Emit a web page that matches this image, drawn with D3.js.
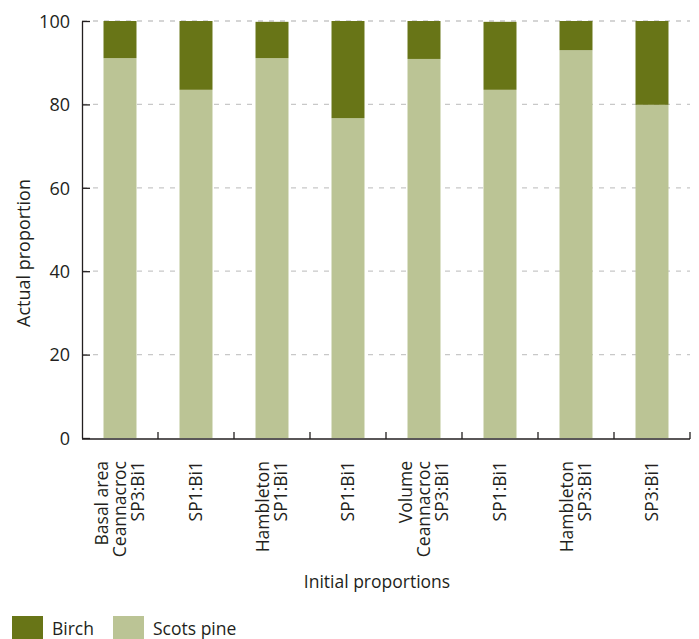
<!DOCTYPE html>
<html>
<head>
<meta charset="utf-8">
<script src="https://cdn.jsdelivr.net/npm/d3@7"></script>
<style>
  body { margin: 0; background: #fff; }
  svg text { font-family: "Open Sans", "Noto Sans", sans-serif; fill: #231f20; }
</style>
</head>
<body>
<div id="chart"></div>
<script>
// data
var groups = [
  ["Basal area", "Ceannacroc", "SP3:Bi1"],
  ["SP1:Bi1"],
  ["Hambleton", "SP1:Bi1"],
  ["SP1:Bi1"],
  ["Volume", "Ceannacroc", "SP3:Bi1"],
  ["SP1:Bi1"],
  ["Hambleton", "SP3:Bi1"],
  ["SP3:Bi1"]
];
var scotsPine = [91.1, 83.5, 91.1, 76.7, 90.9, 83.5, 93.0, 79.9];
var birch = [8.9, 16.5, 8.7, 23.3, 9.1, 16.3, 7.0, 20.1];
var yTicks = [0, 20, 40, 60, 80, 100];
var series = [
  {name: "Birch", color: "#687517"},
  {name: "Scots pine", color: "#bbc495"}
];

var W = 699, H = 639;
var plotL = 82, plotR = 690, plotT = 21, plotB = 438;

var svg = d3.select("#chart").append("svg")
  .attr("width", W).attr("height", H);

var x = d3.scaleBand().domain(d3.range(groups.length)).range([plotL, plotR]).paddingInner(0.566).paddingOuter(0.283);
var y = d3.scaleLinear().domain([0, 100]).range([plotB, plotT]);

// grid
svg.append("g").selectAll("line").data(yTicks.filter(function(d){ return d > 0; }))
  .join("line")
  .attr("x1", plotL).attr("x2", plotR)
  .attr("y1", function(d){ return y(d); }).attr("y2", function(d){ return y(d); })
  .attr("stroke", "#c8c8c8").attr("stroke-width", 1.3)
  .attr("stroke-dasharray", "5,6");

// stacked bars
var rows = groups.map(function(g, i){ return {i: i, pine: scotsPine[i], birch: birch[i]}; });
var stack = d3.stack().keys(["pine", "birch"]);
var layers = stack(rows);
var colors = {pine: series[1].color, birch: series[0].color};
svg.append("g").selectAll("g").data(layers).join("g")
  .attr("fill", function(d){ return colors[d.key]; })
  .selectAll("rect").data(function(d){ return d; }).join("rect")
  .attr("x", function(d){ return x(d.data.i); })
  .attr("width", x.bandwidth())
  .attr("y", function(d){ return y(Math.min(d[1], 100)); })
  .attr("height", function(d){ return y(d[0]) - y(Math.min(d[1], 100)); });

// y axis
var yAxis = svg.append("g").attr("transform", "translate(" + plotL + ",0)")
  .call(d3.axisRight(y).tickValues(yTicks).tickSize(8).tickSizeOuter(0).tickFormat(d3.format("d")));
yAxis.select(".domain").attr("stroke", "#231f20").attr("stroke-width", 1.3);
yAxis.selectAll(".tick line").attr("stroke", "#231f20").attr("stroke-width", 1.3);
yAxis.selectAll(".tick text").attr("x", -12).attr("text-anchor", "end")
  .attr("font-size", 18).attr("dy", "0.35em");

// x axis
var step = x.step();
var bounds = d3.range(groups.length + 1).map(function(i){ return plotL + i * step; });
svg.append("line").attr("x1", plotL).attr("x2", plotR).attr("y1", plotB + 1).attr("y2", plotB + 1)
  .attr("stroke", "#231f20").attr("stroke-width", 1.3);
svg.append("g").selectAll("line").data(bounds.slice(1)).join("line")
  .attr("x1", function(d){ return d; }).attr("x2", function(d){ return d; })
  .attr("y1", plotB + 1).attr("y2", plotB - 6)
  .attr("stroke", "#231f20").attr("stroke-width", 1.3);

// x labels
var lineH = 18;
var xl = svg.append("g").selectAll("text").data(groups).join("text")
  .attr("font-size", 17.5)
  .attr("text-anchor", "end")
  .attr("transform", function(d, i){
    var cx = x(i) + x.bandwidth() / 2;
    return "translate(" + cx + "," + (plotB + 23) + ") rotate(-90)";
  });
xl.selectAll("tspan").data(function(d){ return d.map(function(t, k){ return {t: t, k: k, n: d.length}; }); })
  .join("tspan")
  .attr("x", 0)
  .attr("y", function(d){ return (d.k - (d.n - 1) / 2) * lineH; })
  .attr("dy", "0.35em")
  .text(function(d){ return d.t; });

// axis titles
svg.append("text").attr("x", 377).attr("y", 588)
  .attr("text-anchor", "middle").attr("font-size", 17.5).text("Initial proportions");
svg.append("text").attr("transform", "translate(30,253) rotate(-90)")
  .attr("text-anchor", "middle").attr("font-size", 18).text("Actual proportion");

// legend
var lg = svg.append("g").selectAll("g").data(series).join("g")
  .attr("transform", function(d, i){ return "translate(" + (12 + i * 101) + ",616)"; });
lg.append("rect").attr("width", 31).attr("height", 23).attr("fill", function(d){ return d.color; });
lg.append("text").attr("x", 40).attr("y", 19).attr("font-size", 17.5).text(function(d){ return d.name; });
</script>
</body>
</html>
